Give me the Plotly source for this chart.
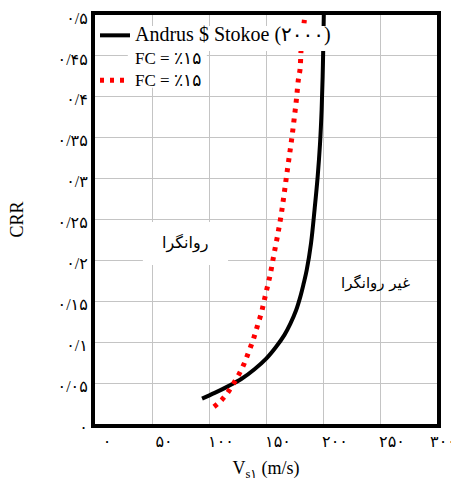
import plotly.graph_objects as go

# Andrus & Stokoe (2000) curve
as_vs = [93.9, 105.0, 116.6, 128.3, 139.9, 150.2, 158.9, 166.2, 171.5, 176.4, 180.2, 183.1, 185.7, 189.5, 192.6, 195.3, 197.4, 198.8, 199.7, 200.3, 200.7]
as_crr = [0.031, 0.038, 0.046, 0.055, 0.067, 0.080, 0.0945, 0.109, 0.123, 0.139, 0.156, 0.172, 0.188, 0.221, 0.262, 0.302, 0.343, 0.384, 0.425, 0.466, 0.500]

# FC = 15% curve
fc_vs = [104.4, 110.2, 115.7, 120.4, 124.8, 128.6, 132.1, 135.0, 138.2, 140.8, 143.2, 145.8, 147.8, 149.6, 151.6, 153.6,
         156.8, 160.1, 163.0, 165.6, 167.9, 170.3, 172.6, 174.7, 176.7, 178.4, 179.9, 180.8, 183.7]
fc_crr = [0.021, 0.028, 0.037, 0.047, 0.057, 0.067, 0.078, 0.089, 0.1006, 0.112, 0.1235, 0.135, 0.147, 0.158, 0.170, 0.182,
          0.206, 0.230, 0.253, 0.278, 0.302, 0.326, 0.349, 0.373, 0.397, 0.421, 0.434, 0.458, 0.494]

x_ticks = [0, 50, 100, 150, 200, 250, 300]
x_labels = ["۰", "۵۰", "۱۰۰", "۱۵۰", "۲۰۰", "۲۵۰", "۳۰۰\u00a0\u00a0\u00a0"]
y_ticks = [0, 0.05, 0.1, 0.15, 0.2, 0.25, 0.3, 0.35, 0.4, 0.45, 0.5]
y_labels = ["۰", "۰/۰۵", "۰/۱", "۰/۱۵", "۰/۲", "۰/۲۵", "۰/۳", "۰/۳۵", "۰/۴", "۰/۴۵", "۰/۵"]

name_as = "Andrus $ Stokoe (۲۰۰۰)"
name_fc1 = "FC = ٪۱۵"
name_fc2 = "FC = ٪۱۵"
label_liq = "روانگرا"
label_nonliq = "غیر روانگرا"

FONT = "Liberation Serif, DejaVu Sans, serif"

fig = go.Figure()
fig.add_trace(go.Scatter(x=as_vs, y=as_crr, mode="lines",
                         line=dict(color="black", width=4, shape="spline", smoothing=1),
                         name='<span style="font-size:20px">' + name_as + '</span>'))
fig.add_trace(go.Scatter(x=[None], y=[None], mode="lines", line=dict(color="rgba(0,0,0,0)", width=0),
                         name='<span style="font-size:17px">' + name_fc1 + '</span>'))
fig.add_trace(go.Scatter(x=fc_vs, y=fc_crr, mode="lines",
                         line=dict(color="#ff0000", width=5, dash="4px,6px", shape="spline"),
                         name='<span style="font-size:17px">' + name_fc2 + '</span>'))

# white backgrounds behind legend texts and label
shapes = [
    dict(type="rect", xref="paper", yref="paper", x0=0.015, x1=0.70, y0=0.912, y1=0.973,
         fillcolor="white", line=dict(width=0), layer="above"),
    dict(type="rect", xref="paper", yref="paper", x0=0.096, x1=0.327, y0=0.822, y1=0.912,
         fillcolor="white", line=dict(width=0), layer="above"),
    dict(type="rect", xref="paper", yref="paper", x0=0.140, x1=0.389, y0=0.389, y1=0.494,
         fillcolor="white", line=dict(width=0), layer="above"),
]

fig.update_layout(
    width=451, height=481,
    margin=dict(l=95, r=14, t=15, b=57),
    paper_bgcolor="white", plot_bgcolor="white",
    font=dict(family=FONT, color="black"),
    showlegend=True,
    legend=dict(x=0.0, y=0.99, xanchor="left", yanchor="top", bgcolor="rgba(0,0,0,0)",
                font=dict(family=FONT, size=15, color="black"), tracegroupgap=0,
                borderwidth=0),
    shapes=shapes,
    annotations=[
        dict(x=79, y=0.221, xref="x", yref="y", text=label_liq, showarrow=False,
             font=dict(family="DejaVu Sans", size=16, color="black")),
        dict(x=246, y=0.172, xref="x", yref="y", text=label_nonliq, showarrow=False,
             font=dict(family="DejaVu Sans", size=15, color="black")),
    ],
)
fig.update_xaxes(range=[0, 300], tickvals=x_ticks, ticktext=x_labels, ticklabelshift=12,
                 ticklabeloverflow="allow", automargin=False,
                 showgrid=True, gridcolor="#c4c4c4", gridwidth=1, zeroline=False,
                 showline=True, linecolor="black", linewidth=4, mirror=True, ticks="",
                 tickfont=dict(family=FONT, size=16),
                 title=dict(text="V<sub>s۱</sub> (m/s)", font=dict(family=FONT, size=18), standoff=14))
fig.update_yaxes(range=[0, 0.5], tickvals=y_ticks, ticktext=y_labels, ticklabelshift=3,
                 automargin=False,
                 showgrid=True, gridcolor="#c4c4c4", gridwidth=1, zeroline=False,
                 showline=True, linecolor="black", linewidth=4, mirror=True, ticks="",
                 tickfont=dict(family=FONT, size=16),
                 title=dict(text="CRR", font=dict(family=FONT, size=18), standoff=30))

fig.write_html("out.html")
